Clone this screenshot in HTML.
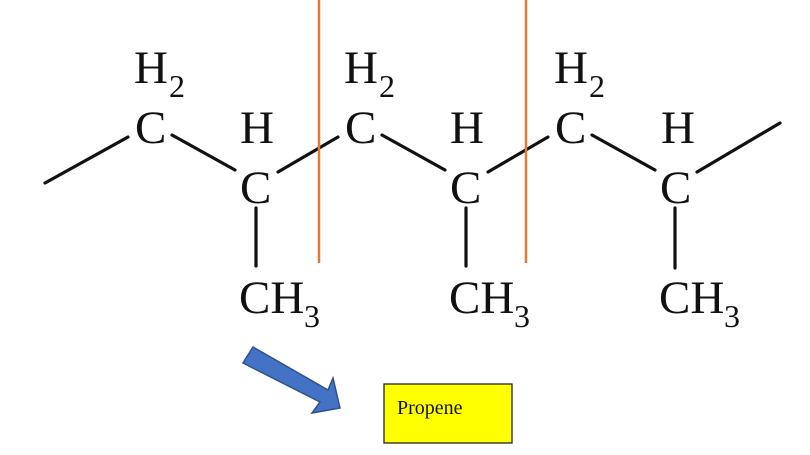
<!DOCTYPE html>
<html><head><style>
html,body{margin:0;padding:0;background:#fff;}
svg{display:block;}
text{font-family:"Liberation Serif",serif;fill:#111;}
</style></head><body>
<svg width="810" height="455" viewBox="0 0 810 455" xmlns="http://www.w3.org/2000/svg">
<g stroke="#111" stroke-width="3.2" stroke-linecap="round" fill="none">
<line x1="45" y1="183" x2="128" y2="137"/>
<line x1="172" y1="135" x2="235" y2="170"/>
<line x1="256" y1="208" x2="256" y2="266"/>
<line x1="278" y1="172" x2="338" y2="137"/>
<line x1="382" y1="135" x2="445" y2="170"/>
<line x1="466" y1="208" x2="466" y2="266"/>
<line x1="488" y1="172" x2="548" y2="137"/>
<line x1="592" y1="135" x2="655" y2="170"/>
<line x1="675" y1="208" x2="675" y2="268"/>
<line x1="697" y1="172" x2="780" y2="123"/>
</g>
<g font-size="47">
<text x="134" y="83">H</text><text x="169" y="97" font-size="32">2</text>
<text x="135" y="143">C</text>
<text x="240" y="143">H</text>
<text x="240" y="203">C</text>
<text x="239" y="313">CH</text><text x="304" y="327" font-size="32">3</text>

<text x="344" y="83">H</text><text x="379" y="97" font-size="32">2</text>
<text x="345" y="143">C</text>
<text x="450" y="143">H</text>
<text x="450" y="203">C</text>
<text x="449" y="313">CH</text><text x="514" y="327" font-size="32">3</text>

<text x="554" y="83">H</text><text x="589" y="97" font-size="32">2</text>
<text x="555" y="143">C</text>
<text x="661" y="143">H</text>
<text x="660" y="203">C</text>
<text x="659" y="313">CH</text><text x="724" y="327" font-size="32">3</text>
</g>
<g stroke="#e07b39" stroke-width="2.5">
<line x1="319" y1="0" x2="319" y2="263"/>
<line x1="526" y1="0" x2="526" y2="263"/>
</g>
<polygon points="253,347 328,390 333,378 340,408 312,413 320,402 243,363" fill="#4472c4" stroke="#2f528f" stroke-width="1.5"/>
<rect x="384" y="384" width="128" height="59" fill="#ffff00" stroke="#222" stroke-width="1.3"/>
<text x="397" y="414" font-size="20">Propene</text>
</svg>
</body></html>
